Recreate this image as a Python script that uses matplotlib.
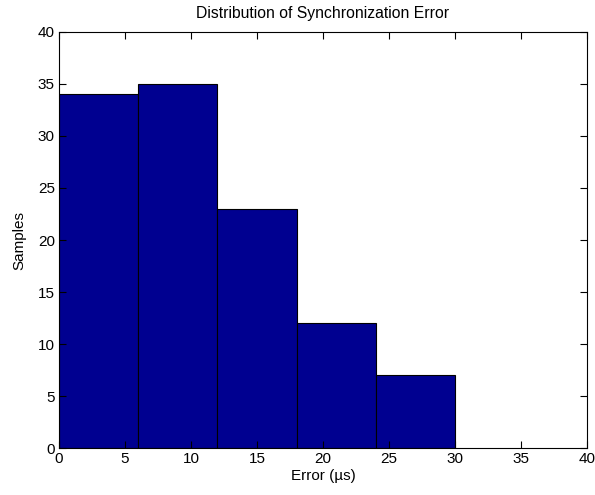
import matplotlib
matplotlib.use('Agg')
import matplotlib.pyplot as plt
import numpy as np

# histogram of measured sync error
bin_edges = [0, 6, 12, 18, 24, 30]
counts = [34, 35, 23, 12, 7]

plt.rcParams['font.family'] = ['Liberation Sans', 'DejaVu Sans']
plt.rcParams['font.size'] = 11

fig = plt.figure(figsize=(5.95, 4.95), dpi=100)
ax = fig.add_axes([0.0992, 0.0949, 0.8874, 0.8405])

widths = np.diff(bin_edges)
ax.bar(bin_edges[:-1], counts, width=widths, align='edge',
       color='#000090', edgecolor='black', linewidth=0.8)

ax.set_xlim(0, 40)
ax.set_ylim(0, 40)
ax.set_xticks(range(0, 41, 5))
ax.set_yticks(range(0, 41, 5))
ax.tick_params(direction='in', top=True, right=True, length=5, width=0.8, pad=3)
for s in ax.spines.values():
    s.set_linewidth(0.8)

ax.set_title('Distribution of Synchronization Error', fontsize=11.3, pad=10)
ax.set_xlabel('Error (\u00b5s)', labelpad=2)
ax.set_ylabel('Samples', labelpad=8)

fig.savefig('out.png', dpi=100)
